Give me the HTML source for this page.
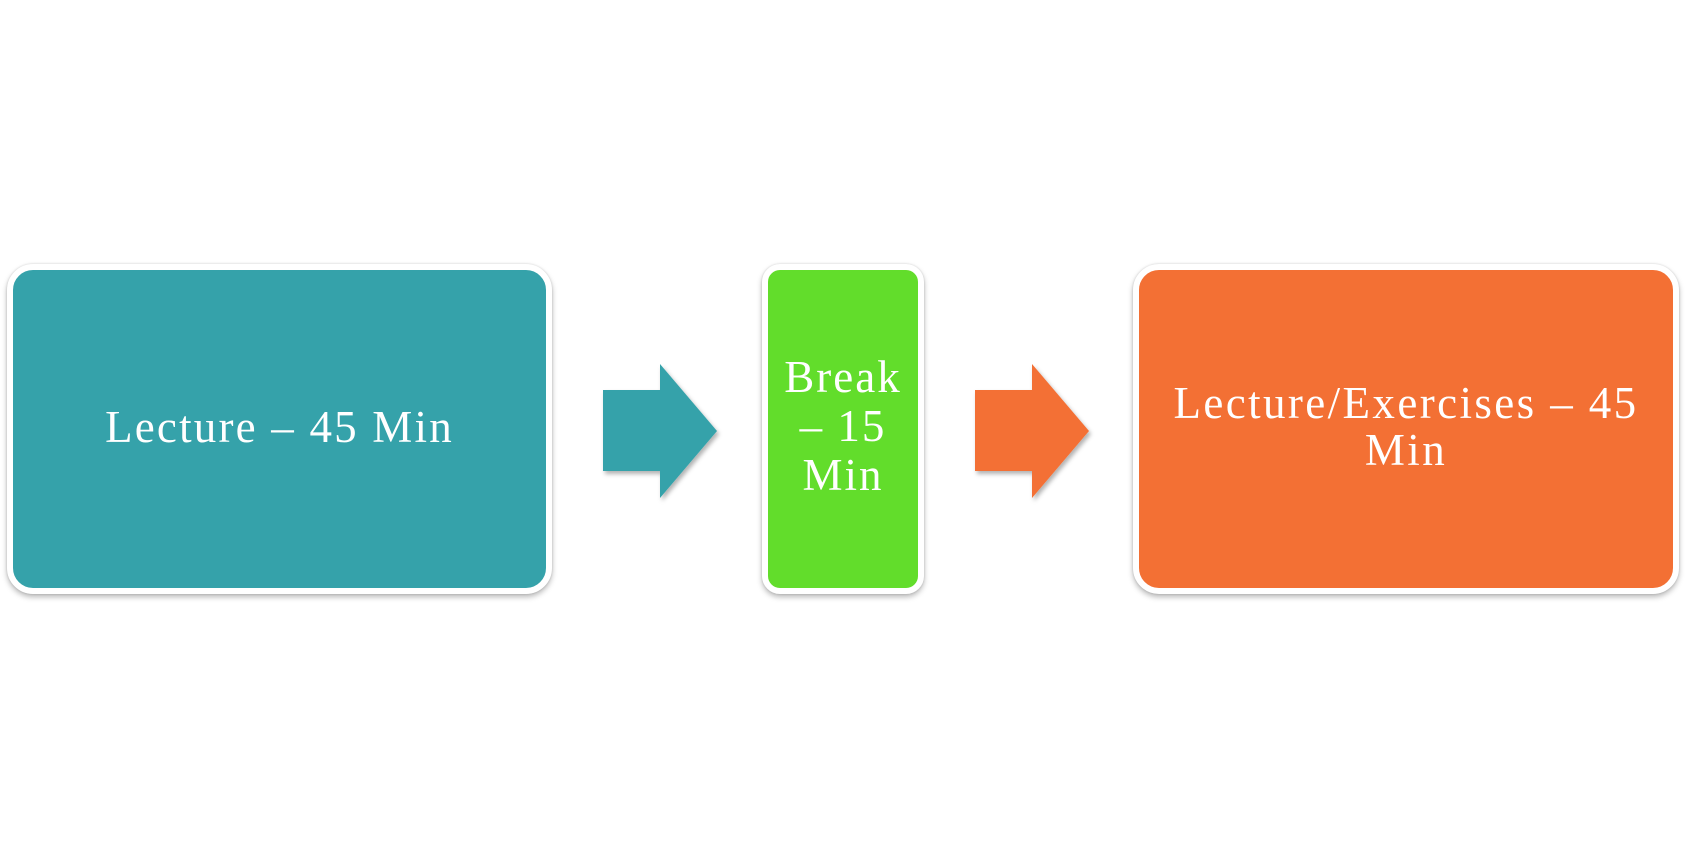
<!DOCTYPE html>
<html><head><meta charset="utf-8"><style>
html,body{margin:0;padding:0;background:#fff;}
body{width:1686px;height:859px;position:relative;overflow:hidden;font-family:"Liberation Serif",serif;color:#fff;}
.box{position:absolute;box-sizing:border-box;border:6px solid #fff;border-radius:26px;box-shadow:0 3px 6px rgba(0,0,0,0.28),0 0 2px rgba(0,0,0,0.15);display:flex;align-items:center;justify-content:center;text-align:center;font-size:45px;line-height:47px;letter-spacing:2.2px;}
svg{position:absolute;left:0;top:0;}
</style></head><body>
<svg width="1686" height="859">
<defs><filter id="s" x="-20%" y="-20%" width="140%" height="140%"><feDropShadow dx="2" dy="3" stdDeviation="2" flood-color="#000" flood-opacity="0.3"/></filter></defs>
<polygon filter="url(#s)" fill="#35a2aa" points="603,390 660,390 660,364 717,431 660,498 660,471 603,471"/>
<polygon filter="url(#s)" fill="#f37034" points="975,390 1032,390 1032,364 1089,431 1032,498 1032,471 975,471"/>
</svg>
<div class="box" style="left:7px;top:264px;width:545px;height:330px;background:#35a2aa;"><div style="margin-top:-4px">Lecture – 45 Min</div></div>
<div class="box" style="left:762px;top:264px;width:162px;height:330px;background:#62dd2b;border-radius:18px;"><div style="margin-top:-6px;font-size:45px;line-height:49px;letter-spacing:2px">Break<br>– 15<br>Min</div></div>
<div class="box" style="left:1133px;top:264px;width:546px;height:330px;background:#f37034;"><div style="margin-top:-4px;padding:0;white-space:nowrap;letter-spacing:2.4px">Lecture/Exercises – 45<br>Min</div></div>
</body></html>
